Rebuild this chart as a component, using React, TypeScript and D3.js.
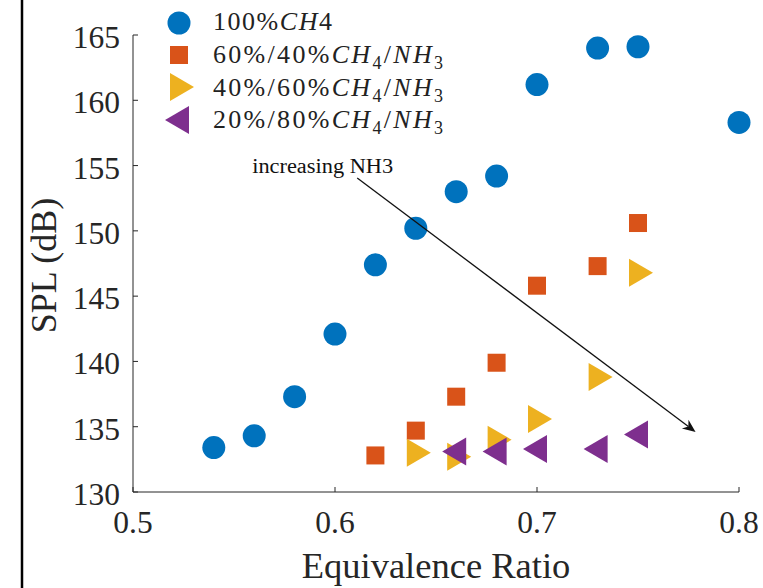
import React from "react";
import * as d3 from "d3";

const W = 763;
const H = 588;

const xTicks = [0.5, 0.6, 0.7, 0.8];
const yTicks = [130, 135, 140, 145, 150, 155, 160, 165];

const ch4X = [0.54, 0.56, 0.58, 0.6, 0.62, 0.64, 0.66, 0.68, 0.7, 0.73, 0.75, 0.8];
const ch4Y = [133.4, 134.3, 137.3, 142.1, 147.4, 150.2, 153.0, 154.2, 161.2, 164.0, 164.1, 158.3];

const mix6040X = [0.62, 0.64, 0.66, 0.68, 0.7, 0.73, 0.75];
const mix6040Y = [132.8, 134.7, 137.3, 139.9, 145.8, 147.3, 150.6];

const mix4060X = [0.64, 0.66, 0.68, 0.7, 0.73, 0.75];
const mix4060Y = [133.0, 132.7, 134.0, 135.6, 138.8, 146.8];

const mix2080X = [0.66, 0.68, 0.7, 0.73, 0.75];
const mix2080Y = [133.1, 133.1, 133.3, 133.3, 134.4];

const arrowFrom = [0.611, 154.05];
const arrowTo = [0.7785, 134.6];
const annotText = "increasing NH3";
const annotPos = [0.559, 154.45];

const COLORS = ["#0072BD", "#D95319", "#EDB120", "#7E2F8E"];
const FONT = "'Liberation Serif', 'Times New Roman', serif";

const x = d3.scaleLinear().domain([0.5, 0.8]).range([133, 739]);
const y = d3.scaleLinear().domain([130, 165]).range([492, 35]);

function Circle({ cx, cy, color }: any) {
  return <circle cx={cx} cy={cy} r={11.5} fill={color} />;
}
function Square({ cx, cy, color }: any) {
  const s = 18;
  return <rect x={cx - s / 2} y={cy - s / 2} width={s} height={s} fill={color} />;
}
function TriRight({ cx, cy, color }: any) {
  const w = 24, h = 28;
  const p = `${cx - w / 2},${cy - h / 2} ${cx + w / 2},${cy} ${cx - w / 2},${cy + h / 2}`;
  return <polygon points={p} fill={color} />;
}
function TriLeft({ cx, cy, color }: any) {
  const w = 24, h = 28;
  const p = `${cx + w / 2},${cy - h / 2} ${cx - w / 2},${cy} ${cx + w / 2},${cy + h / 2}`;
  return <polygon points={p} fill={color} />;
}

function MixLabel({ a, b, yb }: any) {
  return (
    <text x={213} y={yb} fontFamily={FONT} fontSize={26} fill="#222" textLength={230} lengthAdjust="spacing">
      <tspan>{`${a}%/${b}%`}</tspan>
      <tspan fontStyle="italic">CH</tspan>
      <tspan fontSize={18} dy={6}>4</tspan>
      <tspan dy={-6}>/</tspan>
      <tspan fontStyle="italic">NH</tspan>
      <tspan fontSize={18} dy={6}>3</tspan>
    </text>
  );
}

export default function App() {
  const x1 = x(arrowFrom[0]), y1 = y(arrowFrom[1]);
  const x2 = x(arrowTo[0]), y2 = y(arrowTo[1]);
  const ang = Math.atan2(y2 - y1, x2 - x1);
  const L = 13, Wd = 5.5, back = 9;
  const ca = Math.cos(ang), sa = Math.sin(ang);
  const pt = (u: number, v: number) => [x2 + u * ca - v * sa, y2 + u * sa + v * ca];
  const head = [pt(0, 0), pt(-L, -Wd), pt(-back, 0), pt(-L, Wd)].map((p) => p.join(",")).join(" ");

  const axisColor = "#262626";
  return (
    <svg width={W} height={H} style={{ position: "absolute", left: 0, top: 0, background: "#fff" }}>
      <rect x={0} y={0} width={W} height={H} fill="#fff" />
      <line x1={22} y1={0} x2={22} y2={H} stroke="#000" strokeWidth={2.5} />

      {/* axes */}
      <line x1={x(0.5)} y1={y(165)} x2={x(0.5)} y2={y(130)} stroke={axisColor} strokeWidth={1} />
      <line x1={x(0.5)} y1={y(130)} x2={x(0.8)} y2={y(130)} stroke={axisColor} strokeWidth={1} />
      {yTicks.map((t) => (
        <g key={"y" + t}>
          <line x1={x(0.5)} x2={x(0.5) + 5} y1={y(t)} y2={y(t)} stroke={axisColor} />
          <text x={120} y={y(t) + 13} textAnchor="end" fontFamily={FONT} fontSize={31.5} fill="#262626">
            {t}
          </text>
        </g>
      ))}
      {xTicks.map((t) => (
        <g key={"x" + t}>
          <line x1={x(t)} x2={x(t)} y1={y(130)} y2={y(130) - 5} stroke={axisColor} />
          <text x={x(t)} y={533} textAnchor="middle" fontFamily={FONT} fontSize={31.5} fill="#262626">
            {d3.format(".1f")(t)}
          </text>
        </g>
      ))}
      <text x={(x(0.5) + x(0.8)) / 2} y={578} textAnchor="middle" fontFamily={FONT} fontSize={36.5} fill="#262626">
        Equivalence Ratio
      </text>
      <text
        transform={`translate(56, ${(y(130) + y(165)) / 2 + 2}) rotate(-90)`}
        textAnchor="middle"
        fontFamily={FONT}
        fontSize={36}
        fill="#262626"
      >
        SPL (dB)
      </text>

      {/* data */}
      {ch4X.map((v, i) => (
        <Circle key={"c" + i} cx={x(v)} cy={y(ch4Y[i])} color={COLORS[0]} />
      ))}
      {mix6040X.map((v, i) => (
        <Square key={"s" + i} cx={x(v)} cy={y(mix6040Y[i])} color={COLORS[1]} />
      ))}
      {mix4060X.map((v, i) => (
        <TriRight key={"r" + i} cx={x(v) + 3} cy={y(mix4060Y[i])} color={COLORS[2]} />
      ))}
      {mix2080X.map((v, i) => (
        <TriLeft key={"l" + i} cx={x(v) - 2} cy={y(mix2080Y[i])} color={COLORS[3]} />
      ))}

      {/* annotation */}
      <line x1={x1} y1={y1} x2={pt(-back, 0)[0]} y2={pt(-back, 0)[1]} stroke="#111" strokeWidth={1.3} />
      <polygon points={head} fill="#111" />
      <text
        x={x(annotPos[0])}
        y={y(annotPos[1])}
        fontFamily={FONT}
        fontSize={20}
        textLength={141}
        lengthAdjust="spacingAndGlyphs"
        fill="#111"
      >
        {annotText}
      </text>

      {/* legend */}
      <Circle cx={179} cy={23} color={COLORS[0]} />
      <Square cx={179} cy={55} color={COLORS[1]} />
      <TriRight cx={182} cy={87} color={COLORS[2]} />
      <TriLeft cx={177} cy={120} color={COLORS[3]} />
      <text x={213} y={30} fontFamily={FONT} fontSize={26} fill="#222" textLength={119} lengthAdjust="spacing">
        <tspan>100%</tspan>
        <tspan fontStyle="italic">CH</tspan>
        <tspan>4</tspan>
      </text>
      <MixLabel a={60} b={40} yb={63} />
      <MixLabel a={40} b={60} yb={96} />
      <MixLabel a={20} b={80} yb={128} />
    </svg>
  );
}
